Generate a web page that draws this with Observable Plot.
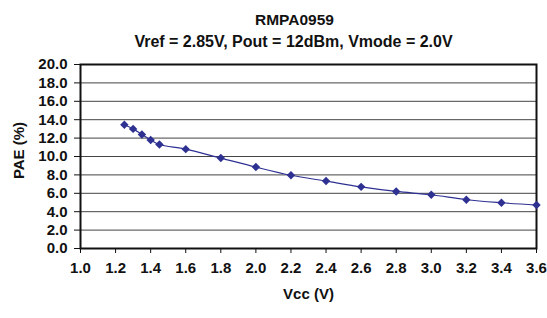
<!DOCTYPE html>
<html>
<head>
<meta charset="utf-8">
<script src="https://cdn.jsdelivr.net/npm/d3@7"></script>
<script src="https://cdn.jsdelivr.net/npm/@observablehq/plot@0.6"></script>
<style>
  html, body { margin: 0; padding: 0; background: #fff; }
  svg { display: block; }
</style>
</head>
<body>
<div id="chart"></div>
<script>
const vcc = [1.25, 1.3, 1.35, 1.4, 1.45, 1.6, 1.8, 2.0, 2.2, 2.4, 2.6, 2.8, 3.0, 3.2, 3.4, 3.6];
const pae = [13.45, 13.0, 12.4, 11.8, 11.3, 10.8, 9.83, 8.85, 7.96, 7.33, 6.7, 6.2, 5.84, 5.3, 4.97, 4.72];
const xTicks = [1.0, 1.2, 1.4, 1.6, 1.8, 2.0, 2.2, 2.4, 2.6, 2.8, 3.0, 3.2, 3.4, 3.6];
const yTicks = [0, 2, 4, 6, 8, 10, 12, 14, 16, 18, 20];
const title = "RMPA0959";
const subtitle = "Vref = 2.85V, Pout = 12dBm, Vmode = 2.0V";
const xLabel = "Vcc (V)";
const yLabel = "PAE (%)";

const data = vcc.map((v, i) => ({vcc: v, pae: pae[i]}));
const font = "'Liberation Sans', Arial, sans-serif";
const blue = "#2e3192";

const chart = Plot.plot({
  width: 547,
  height: 318,
  marginLeft: 80,
  marginRight: 11,
  marginTop: 64,
  marginBottom: 70,
  style: {fontFamily: font, fontWeight: "bold", fontSize: "15px", color: "#111", background: "#fff"},
  x: {domain: [1.0, 3.6]},
  y: {domain: [0, 20]},
  marks: [
    Plot.ruleY(yTicks, {stroke: "#444", strokeWidth: 1}),
    Plot.axisX({ticks: xTicks, tickFormat: d3.format(".1f"), tickSize: 5, tickPadding: 9, label: null, fontWeight: "bold", fontSize: 15}),
    Plot.axisY({ticks: yTicks, tickFormat: d3.format(".1f"), tickSize: 6, tickPadding: 7, label: null, fontWeight: "bold", fontSize: 15}),
    Plot.frame({stroke: "#111", strokeWidth: 2}),
    Plot.line(data, {x: "vcc", y: "pae", stroke: blue, strokeWidth: 1.2, curve: "catmull-rom"}),
    Plot.dot(data, {x: "vcc", y: "pae", symbol: "diamond2", r: 3.8, fill: blue, stroke: "none"}),
    Plot.text([title], {frameAnchor: "top", text: d => d, dx: -14, dy: -51, fontSize: 15.5, fontWeight: "bold"}),
    Plot.text([subtitle], {frameAnchor: "top", text: d => d, dx: -15, dy: -29, fontSize: 16, fontWeight: "bold"}),
    Plot.text([xLabel], {frameAnchor: "bottom", text: d => d, dy: 50, fontSize: 15, fontWeight: "bold"}),
    Plot.text([yLabel], {frameAnchor: "left", textAnchor: "middle", text: d => d, dx: -61, dy: -6, rotate: -90, fontSize: 15, fontWeight: "bold"})
  ]
});
document.getElementById("chart").appendChild(chart);
</script>
</body>
</html>
